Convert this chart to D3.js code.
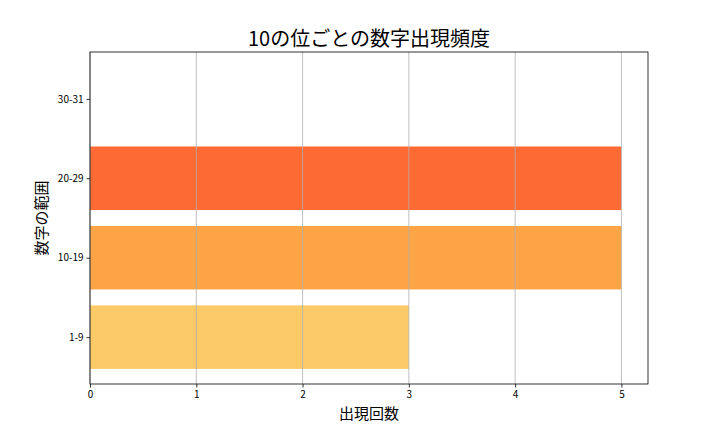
<!DOCTYPE html>
<html>
<head>
<meta charset="utf-8">
<script src="https://cdn.jsdelivr.net/npm/d3@7"></script>
<style>
  body { margin: 0; background: #fff; }
  svg text { font-family: "Noto Sans CJK JP", "Noto Sans", sans-serif; fill: #000; }
</style>
</head>
<body>
<div id="chart"></div>
<script>
// data
var categories = ["1-9", "10-19", "20-29", "30-31"]
var counts = [3, 5, 5, 0]
var barColors = ["#fdca68", "#fda446", "#fe6a33", "#fe6a33"]
var xTicks = [0, 1, 2, 3, 4, 5]

var margin = { top: 52, left: 90, right: 72, bottom: 48 },
  width = 720 - margin.left - margin.right,
  height = 432 - margin.top - margin.bottom

var svg = d3.select("#chart")
  .append("svg")
  .attr("width", 720)
  .attr("height", 432)

var g = svg.append("g")
  .attr("transform", "translate(" + margin.left + "," + margin.top + ")")

// x goes to 5.25 like the matplotlib auto margin
var xScale = d3.scaleLinear()
  .domain([0, 5.25])
  .range([0, width])

// category index -> pixel, with the usual -0.59 .. 3.59 limits
var yScale = d3.scaleLinear()
  .domain([-0.59, 3.59])
  .range([height, 0])

var barHeight = yScale(0) - yScale(0.8)

g.selectAll(".bar")
  .data(categories)
  .enter().append("rect")
  .attr("class", "bar")
  .attr("x", xScale(0))
  .attr("y", function(d, i) { return yScale(i + 0.4) })
  .attr("width", function(d, i) { return xScale(counts[i]) - xScale(0) })
  .attr("height", barHeight)
  .attr("fill", function(d, i) { return barColors[i] })

// vertical grid lines sit on top of the bars
g.selectAll(".grid")
  .data(xTicks)
  .enter().append("line")
  .attr("class", "grid")
  .attr("x1", function(d) { return xScale(d) })
  .attr("x2", function(d) { return xScale(d) })
  .attr("y1", 0)
  .attr("y2", height)
  .attr("stroke", "#b0b0b0")
  .attr("stroke-width", 0.8)

// axes
var xAxis = d3.axisBottom(xScale)
  .tickValues(xTicks)
  .tickFormat(d3.format("d"))
  .tickSize(3.5)
  .tickPadding(3)

g.append("g")
  .attr("transform", "translate(0," + height + ")")
  .call(xAxis)
  .call(function(s) {
    s.select(".domain").remove()
    s.selectAll("line").attr("stroke", "#000").attr("stroke-width", 0.8)
    s.selectAll("text").attr("font-size", 10).attr("font-family", "Noto Sans CJK JP")
  })

var yAxis = d3.axisLeft(yScale)
  .tickValues(d3.range(categories.length))
  .tickFormat(function(d) { return categories[d] })
  .tickSize(3.5)
  .tickPadding(3)

g.append("g")
  .call(yAxis)
  .call(function(s) {
    s.select(".domain").remove()
    s.selectAll("line").attr("stroke", "#000").attr("stroke-width", 0.8)
    s.selectAll("text").attr("font-size", 10).attr("font-family", "Noto Sans CJK JP")
  })

// frame
g.append("rect")
  .attr("x", 0)
  .attr("y", 0)
  .attr("width", width)
  .attr("height", height)
  .attr("fill", "none")
  .attr("stroke", "#000")
  .attr("stroke-width", 0.8)

// titles
svg.append("text")
  .text("10の位ごとの数字出現頻度")
  .attr("x", margin.left + width / 2)
  .attr("y", 46)
  .attr("text-anchor", "middle")
  .attr("font-size", 20)

svg.append("text")
  .text("出現回数")
  .attr("x", margin.left + width / 2)
  .attr("y", 419)
  .attr("text-anchor", "middle")
  .attr("font-size", 15)

svg.append("text")
  .text("数字の範囲")
  .attr("transform", "translate(47," + (margin.top + height / 2) + ") rotate(-90)")
  .attr("text-anchor", "middle")
  .attr("font-size", 15)
</script>
</body>
</html>
